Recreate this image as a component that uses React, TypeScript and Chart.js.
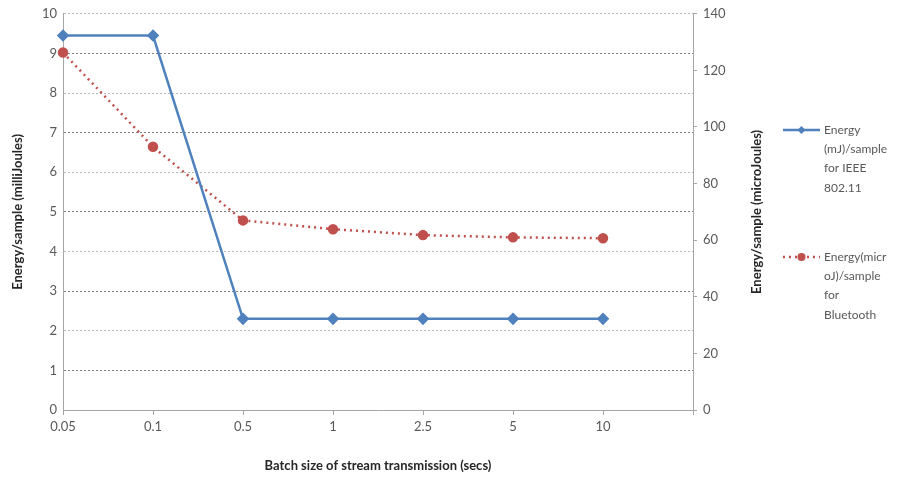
import React, { useEffect, useRef } from "react";
import { Chart, registerables } from "chart.js";

Chart.register(...registerables);

const categories = ["0.05", "0.1", "0.5", "1", "2.5", "5", "10", ""];
const wifiEnergy = [9.45, 9.45, 2.3, 2.3, 2.3, 2.3, 2.3];
const bluetoothEnergy = [126.3, 93.0, 67.0, 63.9, 61.8, 61.0, 60.7];
const wifiLegend = ["Energy", "(mJ)/sample", "for IEEE", "802.11"];
const btLegend = ["Energy(micr", "oJ)/sample", "for", "Bluetooth"];
const rightTitle = "Energy/sample (microJoules)";

const FONT = "Lato, 'Open Sans', sans-serif";
const BLUE = "#4f81bd";
const RED = "#c0504d";
const TICK = "#595959";

const legendPlugin = {
  id: "sideLegend",
  afterDraw(chart: any) {
    const ctx = chart.ctx;
    const x0 = 783;
    const x1 = 820;
    const tx = 824;
    const draw = (y: number, color: string, dash: number[], style: string, lines: string[]) => {
      ctx.save();
      ctx.strokeStyle = color;
      ctx.lineWidth = 2.5;
      ctx.setLineDash(dash);
      ctx.beginPath();
      ctx.moveTo(x0, y);
      ctx.lineTo(x1, y);
      ctx.stroke();
      ctx.setLineDash([]);
      ctx.fillStyle = color;
      const cx = (x0 + x1) / 2;
      ctx.beginPath();
      if (style === "diamond") {
        ctx.moveTo(cx, y - 4);
        ctx.lineTo(cx + 4, y);
        ctx.lineTo(cx, y + 4);
        ctx.lineTo(cx - 4, y);
        ctx.closePath();
      } else {
        ctx.arc(cx, y, 4, 0, Math.PI * 2);
      }
      ctx.fill();
      ctx.fillStyle = TICK;
      ctx.font = `12px ${FONT}`;
      ctx.textBaseline = "middle";
      ctx.textAlign = "left";
      lines.forEach((l, i) => ctx.fillText(l, tx, y + i * 19.3));
      ctx.restore();
    };
    draw(130, BLUE, [], "diamond", wifiLegend);
    draw(257, RED, [2, 4], "circle", btLegend);

    // right axis title, reading bottom-to-top like the reference
    const area = chart.chartArea;
    ctx.save();
    ctx.translate(757, (area.top + area.bottom) / 2);
    ctx.rotate(-Math.PI / 2);
    ctx.fillStyle = "#262626";
    ctx.font = `bold 13px ${FONT}`;
    ctx.textAlign = "center";
    ctx.textBaseline = "middle";
    ctx.fillText(rightTitle, 0, 0);
    ctx.restore();
  },
};

export default function App() {
  const ref = useRef<HTMLCanvasElement>(null);
  useEffect(() => {
    if (!ref.current) return;
    const chart = new Chart(ref.current, {
      type: "line",
      data: {
        labels: categories,
        datasets: [
          {
            label: "Energy (mJ)/sample for IEEE 802.11",
            data: wifiEnergy,
            yAxisID: "y",
            borderColor: BLUE,
            backgroundColor: BLUE,
            borderWidth: 2.5,
            pointStyle: "rectRot",
            pointRadius: 4.5,
            pointHoverRadius: 4.5,
            tension: 0,
          },
          {
            label: "Energy(microJ)/sample for Bluetooth",
            data: bluetoothEnergy,
            yAxisID: "y1",
            borderColor: RED,
            backgroundColor: RED,
            borderWidth: 2.5,
            borderDash: [2, 4],
            pointStyle: "circle",
            pointRadius: 4,
            pointHoverRadius: 4,
            tension: 0,
          },
        ],
      },
      options: {
        responsive: false,
        animation: false,
        layout: { padding: { left: 10, right: 136, top: 11, bottom: 13 } },
        plugins: {
          legend: { display: false },
          tooltip: { enabled: false },
        },
        scales: {
          x: {
            offset: false,
            afterFit: (s: any) => {
              s.height = 68;
            },
            grid: {
              display: true,
              drawOnChartArea: false,
              drawTicks: true,
              tickLength: 5,
              color: "#a6a6a6",
            },
            border: { color: "#a6a6a6", dash: [2, 2] },
            ticks: {
              color: TICK,
              font: { family: FONT, size: 13 },
              padding: 4,
              maxRotation: 0,
              autoSkip: false,
            },
            title: {
              display: true,
              text: "Batch size of stream transmission (secs)",
              color: "#262626",
              font: { family: FONT, size: 13, weight: "bold" },
              padding: { top: 4, bottom: 4 },
            },
          },
          y: {
            position: "left",
            min: 0,
            max: 10,
            afterFit: (s: any) => {
              s.width = 53;
            },
            ticks: {
              stepSize: 1,
              color: TICK,
              font: { family: FONT, size: 13 },
              padding: 6,
            },
            grid: {
              color: (c: any) => (c.tick && c.tick.value % 2 === 1 ? "#808080" : "#b8b8b8"),
              lineWidth: 1,
              drawTicks: false,
            },
            border: { display: true, color: "#a6a6a6", dash: [2, 2] },
            title: {
              display: true,
              text: "Energy/sample (milliJoules)",
              color: "#262626",
              font: { family: FONT, size: 13, weight: "bold" },
              padding: { top: 0, bottom: 4 },
            },
          },
          y1: {
            position: "right",
            min: 0,
            max: 140,
            afterFit: (s: any) => {
              s.width = 77;
            },
            ticks: {
              stepSize: 20,
              color: TICK,
              font: { family: FONT, size: 13 },
              padding: 6,
            },
            grid: {
              drawOnChartArea: false,
              drawTicks: true,
              tickLength: 4,
              color: "#a6a6a6",
            },
            border: { display: true, color: "#a6a6a6", dash: [2, 2] },
            title: { display: false },
          },
        },
      } as any,
      plugins: [legendPlugin],
    });
    return () => chart.destroy();
  }, []);
  return (
    <div style={{ position: "fixed", left: 0, top: 0, width: 906, height: 491, background: "#fff" }}>
      <canvas ref={ref} width={906} height={491} style={{ width: 906, height: 491 }} />
    </div>
  );
}
